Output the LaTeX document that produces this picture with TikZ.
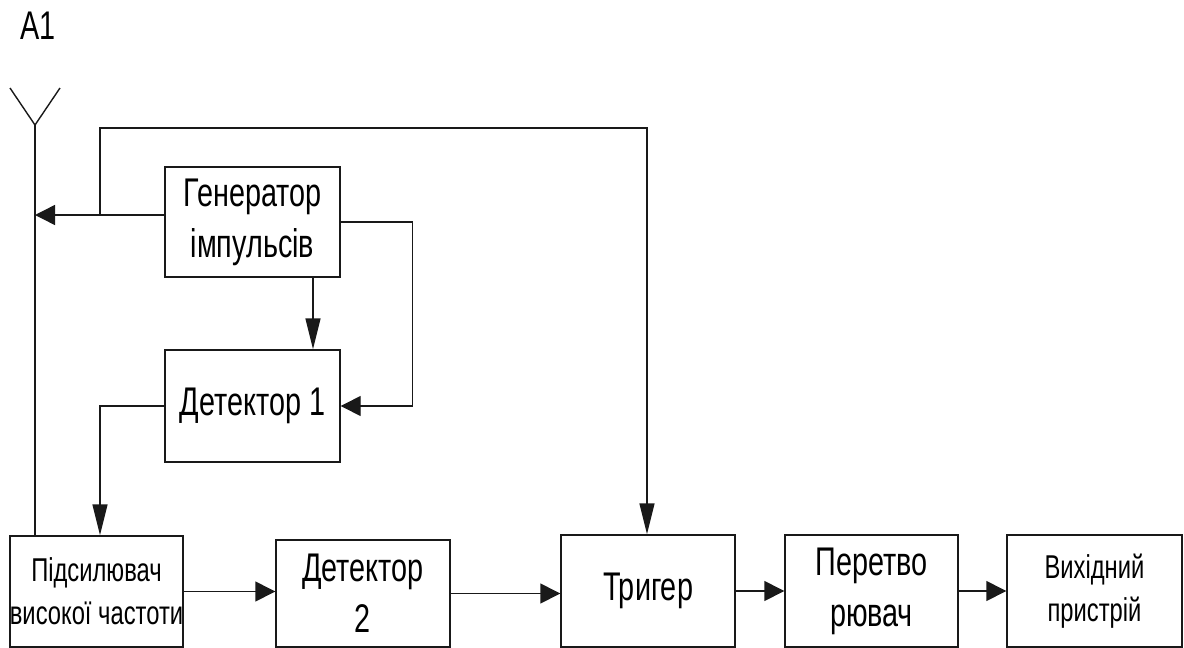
\documentclass[tikz,border=0pt]{standalone}
\usepackage{fontspec}
\setmainfont[FakeStretch=0.72]{Liberation Sans}
\usetikzlibrary{arrows.meta}
\begin{document}
\begin{tikzpicture}[x=1pt,y=-1pt,
  line width=1.4pt, draw=black!90,
  block/.style={draw, rectangle, inner sep=0pt, align=center,
    minimum width=174pt, minimum height=111pt,
    font=\fontsize{40}{51}\selectfont},
  smallblock/.style={block, font=\fontsize{33}{43}\selectfont},
  harrow/.style={-{Triangle[length=20pt,width=20pt]}},
  varrow/.style={-{Triangle[length=31pt,width=15pt]}}]
\useasboundingbox (0,0) rectangle (1184,648);

% label of the antenna
\node[font=\fontsize{40}{48}\selectfont] (lbl) at (38,26) {A1};

% blocks
\node[block, minimum width=175pt, minimum height=110pt] (gen) at (252.5,222) {Генератор\\імпульсів};
\node[block, minimum width=175pt, minimum height=112pt] (det1) at (252.5,406) {Детектор 1};
\node[smallblock, minimum width=173pt] (amp) at (96.5,591.5) {Підсилювач\\високої частоти};
\node[block, minimum height=107pt] (det2) at (363,593.5) {Детектор\\2};
\node[block, minimum height=112pt] (trig) at (648,591) {Тригер};
\node[block, minimum width=173pt, minimum height=112pt] (conv) at (871.5,591) {Перетво\\рювач};
\node[smallblock, minimum width=175pt, minimum height=112pt] (out) at (1094.5,591) {Вихідний\\пристрій};

% antenna
\coordinate (ant) at (35,125);
\coordinate (feed) at (35,215);
\coordinate (tap) at (100,215);
\draw (10,88) -- (ant) -- (60,88);
\draw (ant) -- (ant |- amp.north);

% generator outputs
\draw[harrow] (gen.west |- feed) -- (feed);
\draw[varrow] (tap) -- ++(0,-87) -| ([xshift=-1pt]trig.north);
\draw[harrow] (gen.east) -- ++(72,0) |- (det1.east);
\draw[varrow] ([xshift=60.5pt]gen.south) -- ([xshift=60.5pt]det1.north);
\draw[varrow] (det1.west) -| ([xshift=3.5pt]amp.north);

% signal chain
\draw[harrow] (amp.east) -- (amp.east -| det2.west);
\draw[harrow] (det2.east) -- (det2.east -| trig.west);
\draw[harrow] (trig.east) -- (trig.east -| conv.west);
\draw[harrow] (conv.east) -- (conv.east -| out.west);
\end{tikzpicture}
\end{document}
